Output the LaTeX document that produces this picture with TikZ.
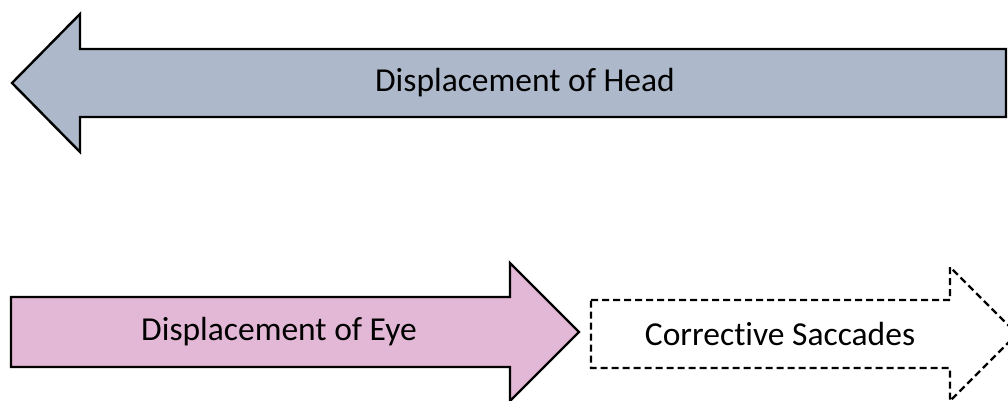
\documentclass[tikz,border=0pt]{standalone}
\usepackage{fontspec}
\setmainfont{Carlito}[Ligatures=NoCommon]
\definecolor{headblue}{RGB}{173,185,202}
\definecolor{eyepink}{RGB}{227,184,214}
\begin{document}
\begin{tikzpicture}[x=1pt,y=-1pt,
  solidarrow/.style={draw=black, line width=2.4pt, line join=miter},
  dasharrow/.style={draw=black, line width=2.2pt, line join=miter, dash pattern=on 7pt off 4pt},
  arrowtext/.style={font=\fontsize{33.5}{40}\selectfont, text=black}]
  \useasboundingbox (0,0) rectangle (1008,401);
  \clip (0,0) rectangle (1008,401);

  % head arrow, pointing left
  \draw[solidarrow, fill=headblue] (1006,49) -- (80,49) -- (80,14) -- (12,83) -- (80,152) -- (80,117) -- (1006,117) -- cycle;
  \node[arrowtext] (head) at (525,83) {Displacement of Head};

  % eye arrow, pointing right
  \draw[solidarrow, fill=eyepink] (11,297) -- (510,297) -- (510,263) -- (579,332) -- (510,401) -- (510,367) -- (11,367) -- cycle;
  \node[arrowtext] (eye) at (279,332) {Displacement of Eye};

  % corrective saccades, dashed outline
  \draw[dasharrow, fill=white] (591,300) -- (950,300) -- (950,267) -- (1017,334) -- (950,401) -- (950,368) -- (591,368) -- cycle;
  \node[arrowtext] (saccades) at (780,334) {Corrective Saccades};
\end{tikzpicture}
\end{document}
